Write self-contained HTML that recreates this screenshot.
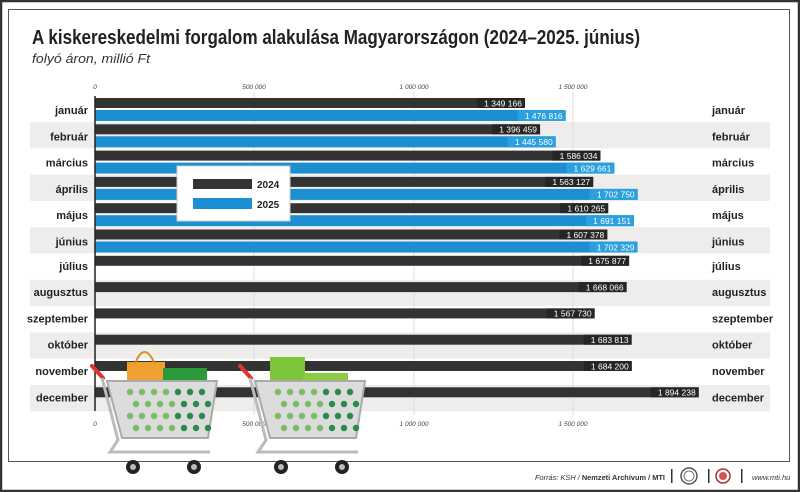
<!DOCTYPE html>
<html><head><meta charset="utf-8"><style>
html,body{margin:0;padding:0;background:#fff}
svg{display:block}
text{font-family:"Liberation Sans",sans-serif}
</style></head><body>
<svg width="800" height="492" viewBox="0 0 800 492" xmlns="http://www.w3.org/2000/svg">
<rect x="0" y="0" width="800" height="492" fill="#fff"/>
<rect x="1" y="1" width="798" height="490" fill="none" stroke="#333" stroke-width="2.5"/>
<rect x="8.5" y="9.5" width="781" height="452" fill="none" stroke="#555" stroke-width="1"/>
<text x="32" y="44" font-size="20" font-weight="bold" fill="#222" textLength="608" lengthAdjust="spacingAndGlyphs">A kiskereskedelmi forgalom alakulása Magyarországon (2024–2025. június)</text>
<text x="32" y="63" font-size="12.5" font-style="italic" fill="#333" textLength="118" lengthAdjust="spacingAndGlyphs">folyó áron, millió Ft</text>
<g id="stripes" fill="#efedeb">
<rect x="30" y="122" width="740" height="26.3"/>
<rect x="30" y="174.6" width="740" height="26.3"/>
<rect x="30" y="227.2" width="740" height="26.3"/>
<rect x="30" y="279.8" width="740" height="26.3"/>
<rect x="30" y="332.4" width="740" height="26.3"/>
<rect x="30" y="385" width="740" height="26.3"/>
</g>
<g stroke="#ddd" stroke-width="1">
<line x1="254" y1="92" x2="254" y2="415"/>
<line x1="414" y1="92" x2="414" y2="415"/>
<line x1="573" y1="92" x2="573" y2="415"/>
</g>
<g font-size="6.5" font-style="italic" fill="#444" text-anchor="middle">
<text x="95" y="89">0</text><text x="254" y="89">500 000</text><text x="414" y="89">1 000 000</text><text x="573" y="89">1 500 000</text>
<text x="95" y="426">0</text><text x="254" y="426">500 000</text><text x="414" y="426">1 000 000</text><text x="573" y="426">1 500 000</text>
</g>
<g id="bars" font-size="8.5" fill="#fff" text-anchor="end"></g>
<line x1="95" y1="96" x2="95" y2="411" stroke="#222" stroke-width="1.5"/>
<g id="labels" font-size="11" font-weight="bold" fill="#222"></g>
<rect x="177" y="166" width="113" height="55" fill="#fff" stroke="#ccc"/>
<rect x="193" y="179" width="59" height="10" fill="#333"/>
<rect x="193" y="198" width="59" height="11" fill="#1b8fd2"/>
<text x="257" y="188" font-size="10" font-weight="bold" fill="#222">2024</text>
<text x="257" y="208" font-size="10" font-weight="bold" fill="#222">2025</text>
<g id="carts"></g>
<g font-size="7.5" fill="#333">
<text x="535" y="480" font-style="italic" textLength="130" lengthAdjust="spacingAndGlyphs">Forrás: KSH / <tspan font-weight="bold" font-style="normal">Nemzeti Archívum / MTI</tspan></text>
<rect x="671" y="469" width="1.5" height="14" fill="#333"/>
<circle cx="689" cy="476" r="8" fill="#fff" stroke="#555" stroke-width="1.5"/><circle cx="689" cy="476" r="5" fill="none" stroke="#777"/>
<rect x="708" y="469" width="1.5" height="14" fill="#333"/>
<circle cx="723" cy="476" r="7" fill="#fff" stroke="#a33" stroke-width="1.5"/><circle cx="723" cy="476" r="4" fill="#c55"/>
<rect x="741" y="469" width="1.5" height="14" fill="#333"/>
<text x="752" y="480" font-style="italic">www.mti.hu</text>
</g>
</svg>
<script>
const ns="http://www.w3.org/2000/svg";
function el(t,a,p,txt){const e=document.createElementNS(ns,t);for(const k in a)e.setAttribute(k,a[k]);if(txt!==undefined)e.textContent=txt;p.appendChild(e);return e;}
const m=["január","február","március","április","május","június","július","augusztus","szeptember","október","november","december"];
const a=[1349166,1396459,1586034,1563127,1610265,1607378,1675877,1668066,1567730,1683813,1684200,1894238];
const b=[1476816,1445580,1629661,1702750,1691151,1702329];
const fmt=v=>String(v).replace(/\B(?=(\d{3})+(?!\d))/g," ");
const X=v=>95+v*0.0003187;
const bars=document.getElementById("bars"),lab=document.getElementById("labels");
for(let i=0;i<12;i++){
 const y=98+i*26.3;
 let x=X(a[i]);
 el("rect",{x:95,y:y,width:x-95,height:10,fill:"#333"},bars);
 el("rect",{x:x-48,y:y,width:48,height:10,fill:"#262626"},bars);
 el("text",{x:x-3,y:y+8.3},bars,fmt(a[i]));
 if(i<6){x=X(b[i]);
 el("rect",{x:95,y:y+12,width:x-95,height:11,fill:"#1b8fd2"},bars);
 el("rect",{x:x-48,y:y+12,width:48,height:11,fill:"#2aa0e0"},bars);
 el("text",{x:x-3,y:y+20.8},bars,fmt(b[i]));}
 const ly=y+(i<6?16:14);
 el("text",{x:88,y:ly,"text-anchor":"end"},lab,m[i]);
 el("text",{x:712,y:ly},lab,m[i]);
}
const c=document.getElementById("carts");
function cart(x0,bag){
 const g=el("g",{},c);
 if(bag){el("rect",{x:x0+27,y:362,width:38,height:22,fill:"#f0a030"},g);
 el("path",{d:`M${x0+35} 364 Q${x0+44} 340 ${x0+55} 364`,fill:"none",stroke:"#d89020","stroke-width":"2"},g);
 el("rect",{x:x0+63,y:368,width:44,height:18,fill:"#2a9a3a"},g);}
 else{el("rect",{x:x0+22,y:357,width:35,height:26,fill:"#7cc43a"},g);
 el("rect",{x:x0+55,y:373,width:45,height:12,fill:"#8acc40"},g);}
 el("line",{x1:x0-8,y1:366,x2:x0+3,y2:378,stroke:"#d33","stroke-width":"4","stroke-linecap":"round"},g);
 el("path",{d:`M${x0+2} 378 L${x0+18} 440 L${x0+10} 452 L${x0+110} 452`,fill:"none",stroke:"#bbb","stroke-width":"3"},g);
 el("path",{d:`M${x0+7} 381 L${x0+117} 381 L${x0+108} 438 L${x0+22} 438 Z`,fill:"#dcdcdc",stroke:"#aaa","stroke-width":"2"},g);
 for(let r=0;r<4;r++)for(let k=0;k<7;k++)el("circle",{cx:x0+30+k*12+(r%2)*6,cy:392+r*12,r:3.2,fill:k>3?"#2a8a4a":"#7cba6a"},g);
 el("circle",{cx:x0+33,cy:467,r:7,fill:"#222"},g);el("circle",{cx:x0+33,cy:467,r:3,fill:"#bbb"},g);
 el("circle",{cx:x0+94,cy:467,r:7,fill:"#222"},g);el("circle",{cx:x0+94,cy:467,r:3,fill:"#bbb"},g);
}
cart(100,true);cart(248,false);
</script>
</body></html>
